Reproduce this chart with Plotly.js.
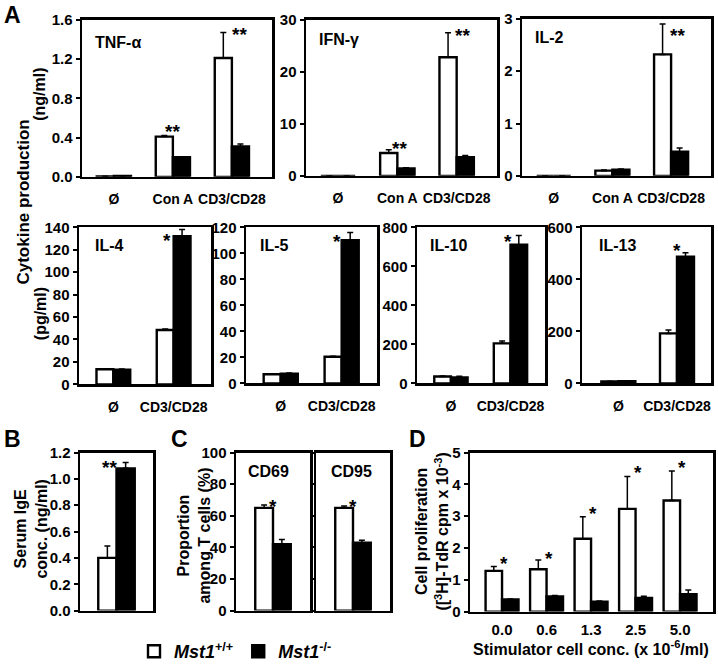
<!DOCTYPE html>
<html>
<head>
<meta charset="utf-8">
<script src="https://cdn.plot.ly/plotly-3.0.1.min.js"></script>
<style>
  body { margin: 0; background: #fff; }
  #chart { width: 718px; height: 670px; }
</style>
</head>
<body>
<div id="chart"></div>
<script>
'use strict';

// ---- data ----
var stimA = ['Ø', 'Con A', 'CD3/CD28'];
var stimTh2 = ['Ø', 'CD3/CD28'];
var stimCells = ['0.0', '0.6', '1.3', '2.5', '5.0'];

var tnfWt = [0.005, 0.41, 1.21], tnfWtErr = [0, 0.01, 0.26];
var tnfKo = [0.01, 0.20, 0.31], tnfKoErr = [0, 0.005, 0.025];
var ifnWt = [0, 4.4, 22.8], ifnWtErr = [0, 0.6, 4.7];
var ifnKo = [0, 1.45, 3.6], ifnKoErr = [0, 0.1, 0.3];
var il2Wt = [0, 0.10, 2.32], il2WtErr = [0, 0.01, 0.58];
var il2Ko = [0, 0.12, 0.46], il2KoErr = [0, 0.01, 0.07];

var il4Wt = [13.5, 48.5], il4WtErr = [0.4, 0.8];
var il4Ko = [13, 132], il4KoErr = [0.7, 6];
var il5Wt = [7, 20.5], il5WtErr = [0.3, 0.3];
var il5Ko = [7.5, 110], il5KoErr = [0.5, 6];
var il10Wt = [35, 205], il10WtErr = [3, 12];
var il10Ko = [30, 710], il10KoErr = [6, 48];
var il13Wt = [7, 192], il13WtErr = [1, 13];
var il13Ko = [8, 487], il13KoErr = [2, 15];

var igeWt = [0.40], igeWtErr = [0.09];
var igeKo = [1.08], igeKoErr = [0.045];

var cd69Wt = [65], cd69WtErr = [1.8];
var cd69Ko = [42], cd69KoErr = [3];
var cd95Wt = [65], cd95WtErr = [1.2];
var cd95Ko = [43], cd95KoErr = [1.5];

var prolWt = [1.28, 1.33, 2.29, 3.23, 3.49], prolWtErr = [0.14, 0.29, 0.69, 1.02, 0.93];
var prolKo = [0.38, 0.48, 0.31, 0.43, 0.55], prolKoErr = [0.02, 0.03, 0.02, 0.05, 0.13];

// significance marks: [category, height, text]
var tnfStars = [['Con A', 0.51, '**'], ['CD3/CD28', 1.5, '**']];
var ifnStars = [['Con A', 6.3, '**'], ['CD3/CD28', 27.9, '**']];
var il2Stars = [['CD3/CD28', 2.77, '**']];
var il4Stars = [['CD3/CD28', 133, '*']];
var il5Stars = [['CD3/CD28', 113, '*']];
var il10Stars = [['CD3/CD28', 754, '*']];
var il13Stars = [['CD3/CD28', 528, '*']];
var igeStars = [['IgE', 1.125, '**']];
var cd69Stars = [['CD69', 69, '*']];
var cd95Stars = [['CD95', 69, '*']];
var prolStars = [['0.0', 1.68, '*'], ['0.6', 1.83, '*'], ['1.3', 3.23, '*'],
                 ['2.5', 4.53, '*'], ['5.0', 4.69, '*']];

var wtName = '<i>Mst1</i><sup>+/+</sup>';
var koName = '<i>Mst1</i><sup>-/-</sup>';

// ---- panel setup: box = [left, right, top, bottom] in pixels ----
var W = 718, H = 670;
var FONT = 'Liberation Sans, Arial, sans-serif';

var panels = [
    {label: 'TNF-α', cats: stimA, wt: tnfWt, wtErr: tnfWtErr, ko: tnfKo, koErr: tnfKoErr,
     box: [82, 272, 20, 179], ymax: 1.6, dtick: 0.4, fmt: '.1f', barW: 0.29,
     xr: [-0.54, 2.68], lab: [93, 43], stars: tnfStars, starShift: [0, 8]},
    {label: 'IFN-γ', cats: stimA, wt: ifnWt, wtErr: ifnWtErr, ko: ifnKo, koErr: ifnKoErr,
     box: [306, 497, 20, 178], ymax: 30, dtick: 10, fmt: 'd', barW: 0.29,
     xr: [-0.54, 2.68], lab: [317, 40], stars: ifnStars, starShift: [2, 6]},
    {label: 'IL-2', cats: stimA, wt: il2Wt, wtErr: il2WtErr, ko: il2Ko, koErr: il2KoErr,
     box: [522, 711, 19, 178], ymax: 3, dtick: 1, fmt: 'd', barW: 0.29,
     xr: [-0.54, 2.68], lab: [533, 38], stars: il2Stars, starShift: [6]},
    {label: 'IL-4', cats: stimTh2, wt: il4Wt, wtErr: il4WtErr, ko: il4Ko, koErr: il4KoErr,
     box: [79, 211, 230, 389], ymax: 140, dtick: 20, fmt: 'd', barW: 0.28,
     xr: [-0.57, 1.62], lab: [93, 248], stars: il4Stars, starShift: [-7]},
    {label: 'IL-5', cats: stimTh2, wt: il5Wt, wtErr: il5WtErr, ko: il5Ko, koErr: il5KoErr,
     box: [246, 377, 230, 388], ymax: 120, dtick: 20, fmt: 'd', barW: 0.28,
     xr: [-0.57, 1.58], lab: [258, 248], stars: il5Stars, starShift: [-5]},
    {label: 'IL-10', cats: stimTh2, wt: il10Wt, wtErr: il10WtErr, ko: il10Ko, koErr: il10KoErr,
     box: [417, 545, 230, 388], ymax: 800, dtick: 200, fmt: 'd', barW: 0.28,
     xr: [-0.57, 1.58], lab: [428, 248], stars: il10Stars, starShift: [-2]},
    {label: 'IL-13', cats: stimTh2, wt: il13Wt, wtErr: il13WtErr, ko: il13Ko, koErr: il13KoErr,
     box: [582, 711, 230, 388], ymax: 600, dtick: 200, fmt: 'd', barW: 0.29,
     xr: [-0.62, 1.58], lab: [597, 248], stars: il13Stars, starShift: [0]},
    {label: '', cats: ['IgE'], wt: igeWt, wtErr: igeWtErr, ko: igeKo, koErr: igeKoErr,
     box: [80, 153, 458, 618], ymax: 1.2, dtick: 0.2, fmt: '.1f', barW: 0.25,
     xr: [-0.5, 0.5], lab: null, stars: igeStars, starShift: [-7]},
    {label: 'CD69', cats: ['CD69'], wt: cd69Wt, wtErr: cd69WtErr, ko: cd69Ko, koErr: cd69KoErr,
     box: [236, 310, 458, 618], ymax: 100, dtick: 20, fmt: 'd', barW: 0.24,
     xr: [-0.5, 0.5], lab: [246, 477], stars: cd69Stars, starShift: [0]},
    {label: 'CD95', cats: ['CD95'], wt: cd95Wt, wtErr: cd95WtErr, ko: cd95Ko, koErr: cd95KoErr,
     box: [316, 390, 458, 618], ymax: 100, dtick: 20, fmt: 'd', barW: 0.24, noLabels: true,
     xr: [-0.5, 0.5], lab: [329, 477], stars: cd95Stars, starShift: [0]},
    {label: '', cats: stimCells, wt: prolWt, wtErr: prolWtErr, ko: prolKo, koErr: prolKoErr,
     box: [470, 713, 458, 619], ymax: 5, dtick: 1, fmt: 'd', barW: 0.37,
     xr: [-0.72, 4.74], lab: null, stars: prolStars, starShift: [2, 2, 2, 2, 2],
     xlen: 3, xfont: 15}
];

function px(x) { return x / W; }
function py(y) { return 1 - y / H; }
function zeros(n) { var z = [], i; for (i = 0; i < n; i += 1) { z.push(0); } return z; }

var data = [];
var annotations = [];
var layout = {
    width: W,
    height: H,
    margin: {l: 0, r: 0, t: 0, b: 0},
    paper_bgcolor: '#fff',
    plot_bgcolor: 'rgba(0,0,0,0)',
    barmode: 'overlay',
    font: {family: FONT, color: '#000', weight: 'bold'},
    showlegend: true,
    legend: {
        orientation: 'h',
        x: px(134), y: py(641), xanchor: 'left', yanchor: 'top',
        font: {size: 18, weight: 'bold', family: FONT},
        itemwidth: 30,
        traceorder: 'normal',
        bgcolor: 'rgba(0,0,0,0)'
    }
};

panels.forEach(function (p, k) {
    var n = k + 1;
    var xa = n === 1 ? 'x' : 'x' + n;
    var ya = n === 1 ? 'y' : 'y' + n;
    var xk = n === 1 ? 'xaxis' : 'xaxis' + n;
    var yk = n === 1 ? 'yaxis' : 'yaxis' + n;
    var single = p.cats.length === 1;

    // wild type, white bars
    data.push({
        type: 'bar', x: p.cats, y: p.wt, xaxis: xa, yaxis: ya,
        name: wtName, legendgroup: 'wt', showlegend: k === 0,
        width: p.barW, offset: -p.barW,
        marker: {color: '#fff', line: {color: '#000', width: 2.4}},
        error_y: {type: 'data', symmetric: false, array: p.wtErr, arrayminus: zeros(p.wt.length),
                  color: '#000', thickness: 1.5, width: 3},
        hoverinfo: 'skip'
    });
    // knockout, black bars
    data.push({
        type: 'bar', x: p.cats, y: p.ko, xaxis: xa, yaxis: ya,
        name: koName, legendgroup: 'ko', showlegend: k === 0,
        width: p.barW, offset: 0,
        marker: {color: '#000', line: {color: '#000', width: 2.4}},
        error_y: {type: 'data', symmetric: false, array: p.koErr, arrayminus: zeros(p.ko.length),
                  color: '#000', thickness: 1.5, width: 3},
        hoverinfo: 'skip'
    });

    layout[xk] = {
        domain: [px(p.box[0]), px(p.box[1])],
        anchor: ya,
        type: 'category',
        range: p.xr,
        showline: true, linecolor: '#000', linewidth: 2.5, mirror: true,
        showgrid: false, zeroline: false,
        ticks: 'outside', ticklen: p.xlen || 8, tickcolor: 'rgba(0,0,0,0)',
        tickangle: 0,
        showticklabels: !single,
        tickfont: {size: p.xfont || 14, family: FONT, weight: 'bold'}
    };
    layout[yk] = {
        domain: [py(p.box[3]), py(p.box[2])],
        anchor: xa,
        range: [0, p.ymax],
        dtick: p.dtick,
        tick0: 0,
        tickformat: p.fmt,
        showline: true, linecolor: '#000', linewidth: 2.5, mirror: true,
        showgrid: false, zeroline: false,
        ticks: 'outside', ticklen: 4, tickwidth: 2, tickcolor: '#000',
        showticklabels: !p.noLabels,
        tickfont: {size: 15, family: FONT, weight: 'bold'}
    };

    if (p.label) {
        annotations.push({
            xref: 'paper', yref: 'paper', x: px(p.lab[0]), y: py(p.lab[1]),
            xanchor: 'left', yanchor: 'middle', showarrow: false,
            text: p.label, font: {size: 16, family: FONT, weight: 'bold'}
        });
    }
    p.stars.forEach(function (s, i) {
        // position by category index (numeric-looking labels would be read as numbers)
        annotations.push({
            xref: xa, yref: ya, x: p.cats.indexOf(s[0]), y: s[1],
            xanchor: 'center', yanchor: 'middle', showarrow: false,
            xshift: p.starShift[i] || 0, yshift: -5,
            text: s[2], font: {size: 19, family: FONT, weight: 'bold'}
        });
    });
});

// panel letters
[['A', 12, 15], ['B', 12, 444], ['C', 179, 444], ['D', 417, 444]].forEach(function (l) {
    annotations.push({
        xref: 'paper', yref: 'paper', x: px(l[1]), y: py(l[2]),
        xanchor: 'center', yanchor: 'middle', showarrow: false,
        text: l[0], font: {size: 23, family: FONT, weight: 'bold'}
    });
});

// axis titles
function vtitle(text, x, y, size) {
    annotations.push({
        xref: 'paper', yref: 'paper', x: px(x), y: py(y),
        xanchor: 'center', yanchor: 'middle', showarrow: false, textangle: -90,
        text: text, font: {size: size, family: FONT, weight: 'bold'}
    });
}
vtitle('Cytokine production', 24, 205, 17);
vtitle('(ng/ml)', 40, 96, 16);
vtitle('(pg/ml)', 40, 318, 16);
vtitle('Serum IgE<br>conc. (ng/ml)', 31, 535, 16);
vtitle('Proportion<br>among T cells (%)', 194, 542, 16);
vtitle('Cell proliferation<br>([<sup>3</sup>H]-TdR cpm x 10<sup>-3</sup>)', 432, 538, 16);

annotations.push({
    xref: 'paper', yref: 'paper', x: px(591), y: py(668),
    xanchor: 'center', yanchor: 'bottom', showarrow: false,
    text: 'Stimulator cell conc. (x 10<sup>-6</sup>/ml)',
    font: {size: 16, family: FONT, weight: 'bold'}
});

layout.annotations = annotations;

Plotly.newPlot('chart', data, layout, {displayModeBar: false, staticPlot: true});
</script>
</body>
</html>
